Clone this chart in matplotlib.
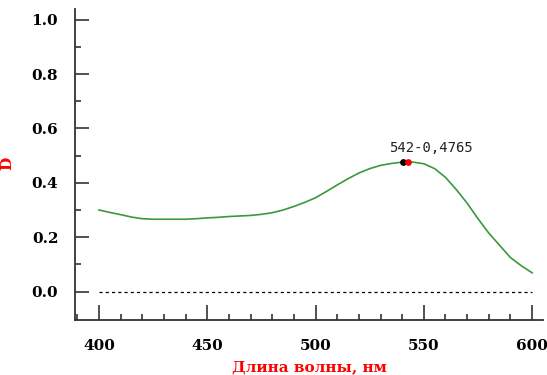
import matplotlib.pyplot as plt
import numpy as np

# spectrum
wavelength = [400, 405, 410, 415, 420, 425, 430, 435, 440, 445, 450, 455, 460, 465,
              470, 475, 480, 485, 490, 495, 500, 505, 510, 515, 520, 525, 530, 535,
              540, 545, 550, 555, 560, 565, 570, 575, 580, 585, 590, 595, 600]
density = [0.300, 0.291, 0.283, 0.274, 0.268, 0.266, 0.266, 0.266, 0.266, 0.268,
           0.271, 0.273, 0.276, 0.278, 0.280, 0.284, 0.290, 0.300, 0.313, 0.328,
           0.345, 0.368, 0.392, 0.415, 0.436, 0.452, 0.464, 0.471, 0.476, 0.476,
           0.470, 0.452, 0.420, 0.375, 0.325, 0.268, 0.215, 0.170, 0.125, 0.095, 0.069]

cursor_x = [540.5]
cursor_y = [0.4762]
peak_x = [542.5]
peak_y = [0.4765]
peak_label = "542-0,4765"

x_major = [400, 450, 500, 550, 600]
y_major = [0.0, 0.2, 0.4, 0.6, 0.8, 1.0]

plt.rcParams.update({
    "font.family": "serif",
    "font.serif": ["DejaVu Serif", "Liberation Serif"],
})

fig = plt.figure(figsize=(5.47, 3.75), dpi=100)
ax = fig.add_axes([0.137, 0.147, 0.856, 0.829])

ax.plot(wavelength, density, color="#3a993a", linewidth=1.2, zorder=2)
ax.plot([400, 600], [0, 0], color="black", linestyle=(0, (2.5, 2.5)), linewidth=0.9)
ax.scatter(cursor_x, cursor_y, s=24, color="black", zorder=3, linewidths=0)
ax.scatter(peak_x, peak_y, s=24, color="red", zorder=4, linewidths=0)
ax.annotate(peak_label, (peak_x[0], peak_y[0]), xytext=(-13, 7),
            textcoords="offset points", fontsize=10, family="DejaVu Sans Mono",
            color="#222222")

ax.set_xlim(388.9, 605.1)
ax.set_ylim(-0.104, 1.039)

ax.set_xticks(x_major)
ax.set_xticks(np.arange(390, 606, 10), minor=True)
ax.set_yticks(y_major)
ax.set_yticks(np.arange(0.1, 1.0, 0.2), minor=True)
ax.set_yticklabels([f"{v:.1f}" for v in y_major])
ax.set_xticklabels([str(v) for v in x_major])

ax.tick_params(axis="both", which="both", direction="in", color="#333333", width=1.2)
ax.tick_params(axis="x", which="major", length=11, pad=14)
ax.tick_params(axis="x", which="minor", length=4.5)
ax.tick_params(axis="y", which="major", length=10, pad=12)
ax.tick_params(axis="y", which="minor", length=4.5)
for lab in ax.get_xticklabels() + ax.get_yticklabels():
    lab.set_fontweight("bold")
    lab.set_fontsize(11)

ax.spines["top"].set_visible(False)
ax.spines["right"].set_visible(False)
ax.spines["left"].set_color("#333333")
ax.spines["bottom"].set_color("#333333")
ax.spines["left"].set_linewidth(1.3)
ax.spines["bottom"].set_linewidth(1.3)

ax.set_xlabel("Длина волны, нм", color="red", fontweight="bold", fontsize=11, labelpad=5)
ax.set_ylabel("D", color="red", fontweight="bold", fontsize=11)
ax.yaxis.set_label_coords(-0.13, 0.505)

fig.savefig("out.png", dpi=100)
